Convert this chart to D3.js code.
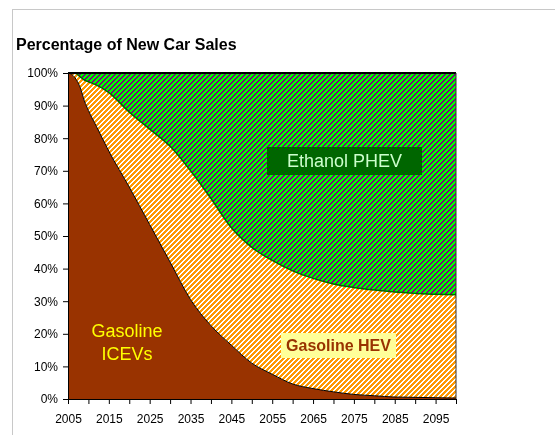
<!DOCTYPE html>
<html>
<head>
<meta charset="utf-8">
<script src="https://cdn.jsdelivr.net/npm/d3@7"></script>
<style>
  body { margin: 0; background: #fff; }
  #chart { position: relative; width: 555px; height: 435px; }
  #chart canvas, #chart svg { position: absolute; left: 0; top: 0; }
  text { font-family: "Liberation Sans", Arial, sans-serif; }
</style>
</head>
<body>
<div id="chart"></div>
<script>
// data (share of new car sales, %)
var years = [2005, 2006, 2007, 2008, 2009, 2010, 2012, 2015, 2020, 2025, 2030, 2035, 2040,
             2045, 2050, 2055, 2060, 2065, 2070, 2075, 2080, 2085, 2090, 2095, 2100];
var iceShare  = [100, 99.5, 98, 95.5, 91.5, 88.5, 83.5, 76, 65, 53.5, 42, 30.5, 22.5,
                 16.5, 11, 7.6, 4.6, 3.2, 2.2, 1.4, 1.0, 0.6, 0.5, 0.4, 0.3];
var hevShare  = [0, 0.5, 1.8, 3.3, 6.3, 8.8, 12.8, 18, 23, 29.3, 35.5, 39.5, 39,
                 36, 35.5, 34.9, 34.7, 33.8, 33.1, 32.8, 32.4, 32.2, 31.9, 31.7, 31.7];
var phevShare = [0, 0, 0.2, 1.2, 2.2, 2.7, 3.7, 6, 12, 17.2, 22.5, 30, 38.5,
                 47.5, 53.5, 57.5, 60.7, 63, 64.7, 65.8, 66.6, 67.2, 67.6, 67.9, 68];
var yTicks = [0, 10, 20, 30, 40, 50, 60, 70, 80, 90, 100];
var xTicks = d3.range(2005, 2101, 5);
var xLabels = [2005, 2015, 2025, 2035, 2045, 2055, 2065, 2075, 2085, 2095];
var seriesKeys = ["ice", "hev", "phev"];

var svgWidth = 555;
var svgHeight = 435;
var margin = {top: 73, right: 99, bottom: 36, left: 68};
var width = svgWidth - margin.left - margin.right;
var height = svgHeight - margin.top - margin.bottom;

var table = years.map(function(y, i) {
    return {year: y, ice: iceShare[i], hev: hevShare[i], phev: phevShare[i]};
});
var stacked = d3.stack().keys(seriesKeys)(table);

var x = d3.scaleLinear().domain([2005, 2100]).range([0, width]);
var y = d3.scaleLinear().domain([0, 100]).range([height, 0]);

// areas are painted on a canvas so the hatch stays pixel sharp
var canvas = d3.select("#chart").append("canvas")
    .attr("width", svgWidth).attr("height", svgHeight)
    .node();
var ctx = canvas.getContext("2d");

// upward diagonal hatch tile: period 5px, 3px of c1 and 2px of c2
function hatch(c1, c2) {
    var n = 5;
    var tile = document.createElement("canvas");
    tile.width = n; tile.height = n;
    var t = tile.getContext("2d");
    for (var py = 0; py < n; py++) {
        for (var px = 0; px < n; px++) {
            t.fillStyle = ((px + py) % n) < 3 ? c1 : c2;
            t.fillRect(px, py, 1, 1);
        }
    }
    return ctx.createPattern(tile, "repeat");
}
var fills = {
    ice: "#993300",
    hev: hatch("#ff9900", "#ffffff"),
    phev: hatch("#00ff00", "#800080")
};

var area = d3.area()
    .curve(d3.curveMonotoneX)
    .x(d => margin.left + x(d.data.year))
    .y0(d => margin.top + y(d[0]))
    .y1(d => margin.top + y(d[1]))
    .context(ctx);

stacked.forEach(function(layer) {
    ctx.beginPath();
    area(layer);
    ctx.fillStyle = fills[layer.key];
    ctx.fill();
});

var svg = d3.select("#chart")
    .append("svg")
    .attr("width", svgWidth)
    .attr("height", svgHeight);

// outer chart frame (runs off the picture to the right and bottom)
svg.append("rect")
    .attr("x", 12.5).attr("y", 9.5)
    .attr("width", 600).attr("height", 500)
    .attr("fill", "none")
    .attr("stroke", "#c8c8c8");

svg.append("text")
    .attr("x", 16).attr("y", 50)
    .attr("font-size", "16px")
    .attr("font-weight", "bold")
    .attr("fill", "#000")
    .text("Percentage of New Car Sales");

var chartGroup = svg.append("g")
    .attr("transform", `translate(${margin.left}, ${margin.top})`);

var topLine = d3.line()
    .curve(d3.curveMonotoneX)
    .x(d => x(d.data.year))
    .y(d => y(d[1]));

var edges = {ice: "#000", hev: "#006600"};

// series borders
chartGroup.selectAll(".edge")
    .data(stacked.slice(0, 2))
    .enter()
    .append("path")
    .attr("class", "edge")
    .attr("d", topLine)
    .attr("fill", "none")
    .attr("stroke", d => edges[d.key])
    .attr("stroke-width", d => d.key == "hev" ? 1.5 : 1);

chartGroup.append("line")
    .attr("x1", 0).attr("x2", width)
    .attr("y1", y(100)).attr("y2", y(100))
    .attr("stroke", "#000").attr("stroke-width", 2);
chartGroup.append("line")
    .attr("x1", width).attr("x2", width)
    .attr("y1", 0).attr("y2", height)
    .attr("stroke", "#333").attr("stroke-width", 1);

// axes
var leftAxis = d3.axisLeft(y)
    .tickValues(yTicks)
    .tickFormat(d => d + "%")
    .tickSize(5).tickSizeOuter(0).tickPadding(5);
var bottomAxis = d3.axisBottom(x)
    .tickValues(xTicks)
    .tickFormat(d => xLabels.indexOf(d) >= 0 ? d : "")
    .tickSize(5).tickSizeOuter(0).tickPadding(10);

var yAxisG = chartGroup.append("g").call(leftAxis);
var xAxisG = chartGroup.append("g")
    .attr("transform", `translate(0, ${height})`)
    .call(bottomAxis);

[yAxisG, xAxisG].forEach(function(g) {
    g.selectAll("path, line").attr("stroke", "#000");
    g.selectAll("text")
        .attr("fill", "#000")
        .attr("font-size", "12px")
        .attr("font-family", "Liberation Sans, Arial, sans-serif");
});

// in-chart labels
chartGroup.append("rect")
    .attr("x", 267 - margin.left).attr("y", 147 - margin.top)
    .attr("width", 155).attr("height", 28)
    .attr("fill", "#006600");
chartGroup.append("text")
    .attr("x", 344.5 - margin.left).attr("y", 167 - margin.top)
    .attr("text-anchor", "middle")
    .attr("font-size", "18px")
    .attr("fill", "#ccffcc")
    .text("Ethanol PHEV");

chartGroup.append("rect")
    .attr("x", 281 - margin.left).attr("y", 333 - margin.top)
    .attr("width", 115).attr("height", 25)
    .attr("fill", "#ffff99");
chartGroup.append("text")
    .attr("x", 338.5 - margin.left).attr("y", 351 - margin.top)
    .attr("text-anchor", "middle")
    .attr("font-size", "16px")
    .attr("font-weight", "bold")
    .attr("fill", "#993300")
    .text("Gasoline HEV");

var iceLabel = chartGroup.append("text")
    .attr("text-anchor", "middle")
    .attr("font-size", "18px")
    .attr("fill", "#ffff00");
iceLabel.append("tspan").attr("x", 127 - margin.left).attr("y", 337 - margin.top).text("Gasoline");
iceLabel.append("tspan").attr("x", 127 - margin.left).attr("y", 360 - margin.top).text("ICEVs");
</script>
</body>
</html>
